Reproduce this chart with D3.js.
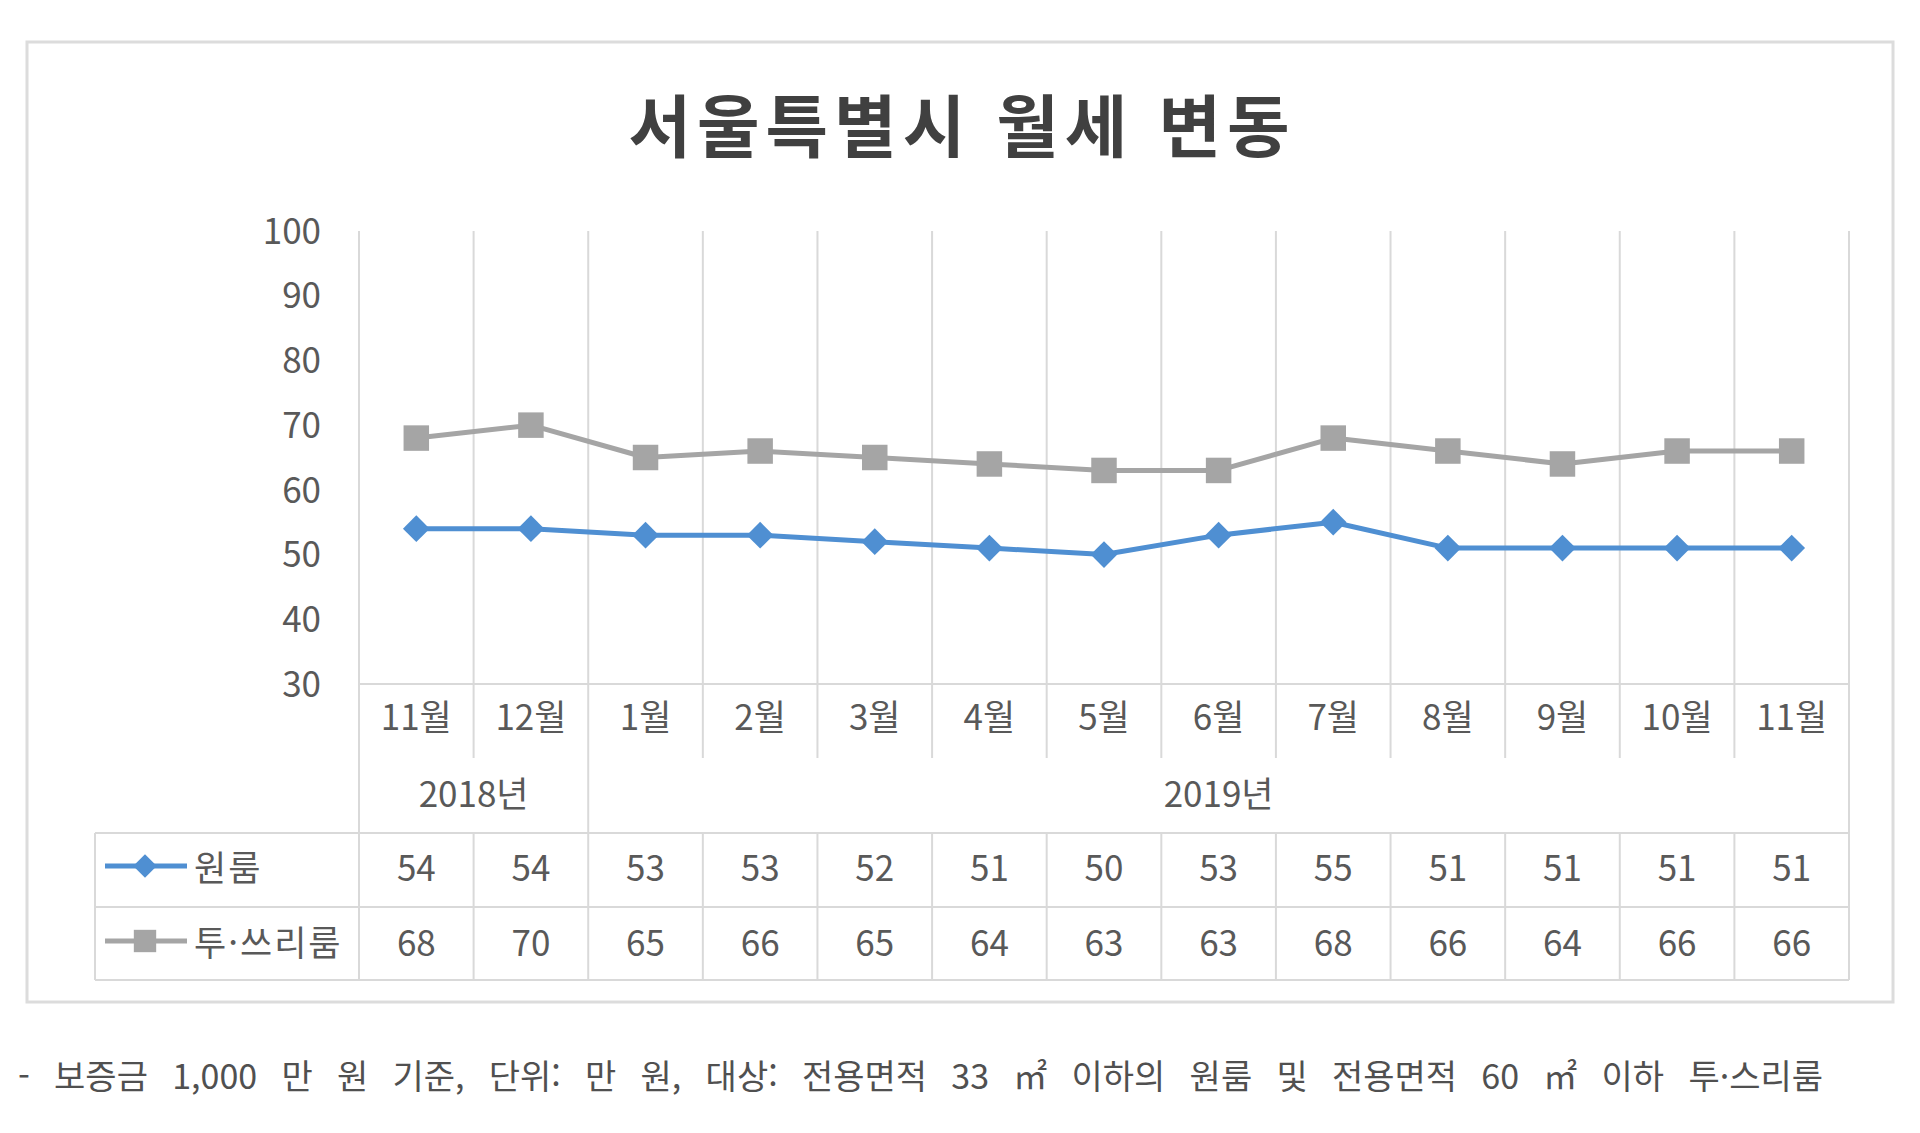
<!DOCTYPE html>
<html lang="ko">
<head>
<meta charset="utf-8">
<script src="https://cdnjs.cloudflare.com/ajax/libs/d3/7.8.5/d3.min.js"></script>
<style>
  body { margin: 0; background: #fff; }
  svg text { font-family: "Noto Sans CJK KR", "Noto Sans", sans-serif; fill: #595959; }
</style>
</head>
<body>
<script>
// values
const months = ["11월", "12월", "1월", "2월", "3월", "4월", "5월", "6월", "7월", "8월", "9월", "10월", "11월"];
const monthYears = ["2018년", "2018년", "2019년", "2019년", "2019년", "2019년", "2019년", "2019년", "2019년", "2019년", "2019년", "2019년", "2019년"];
const oneRoom = [54, 54, 53, 53, 52, 51, 50, 53, 55, 51, 51, 51, 51];
const twoThreeRoom = [68, 70, 65, 66, 65, 64, 63, 63, 68, 66, 64, 66, 66];
const seriesNames = ["원룸", "투·쓰리룸"];
const yTicks = [30, 40, 50, 60, 70, 80, 90, 100];

const chartTitle = "서울특별시 월세 변동";
const footnote = "- 보증금 1,000 만 원 기준, 단위: 만 원, 대상: 전용면적 33 ㎡ 이하의 원룸 및 전용면적 60 ㎡ 이하 투·스리룸";

const width = 1920;
const height = 1133;
const gridColor = "#d9d9d9";
const blue = "#4f8fd2";
const grey = "#a5a5a5";
const labelSize = "35px";

// layout (pixels)
const plot = { left: 359, right: 1849, top: 231, bottom: 684 };
const monthRowBottom = 758;
const tableTop = 833;
const rowBottoms = [907, 980];
const tableLeft = 95;

const svg = d3.select("body").append("svg")
  .attr("width", width)
  .attr("height", height);

const keys = months.map((m, i) => i);
const x = d3.scaleBand().domain(keys).range([plot.left, plot.right]).padding(0);
const y = d3.scaleLinear().domain([30, 100]).range([plot.bottom, plot.top]);
const boundaries = keys.map((k) => x(k)).concat([plot.right]);

const series = [
  { name: seriesNames[0], values: oneRoom, color: blue, marker: "diamond" },
  { name: seriesNames[1], values: twoThreeRoom, color: grey, marker: "square" },
];

function drawFrame() {
  svg.append("rect")
    .attr("x", 27).attr("y", 42)
    .attr("width", 1866).attr("height", 960)
    .attr("fill", "#fff")
    .attr("stroke", "#dcdcdc")
    .attr("stroke-width", 3);

  svg.append("text")
    .attr("x", 962)
    .attr("y", 152)
    .attr("text-anchor", "middle")
    .attr("font-size", "68px")
    .attr("font-weight", "bold")
    .attr("letter-spacing", "6px")
    .style("fill", "#404040")
    .text(chartTitle);
}

function drawGrid() {
  const g = svg.append("g").attr("stroke", gridColor).attr("stroke-width", 2);

  // category separators in the plot
  g.selectAll(".vgrid")
    .data(boundaries)
    .enter()
    .append("line")
    .attr("x1", (d) => d).attr("x2", (d) => d)
    .attr("y1", plot.top).attr("y2", plot.bottom);

  // x axis line
  g.append("line")
    .attr("x1", plot.left).attr("x2", plot.right)
    .attr("y1", plot.bottom).attr("y2", plot.bottom);

  // month row ticks, year boundaries run down into the table
  const yearEdges = new Set([plot.left, plot.right]);
  monthYears.forEach((yr, i) => {
    if (i > 0 && yr !== monthYears[i - 1]) yearEdges.add(x(i));
  });
  g.selectAll(".mtick")
    .data(boundaries)
    .enter()
    .append("line")
    .attr("x1", (d) => d).attr("x2", (d) => d)
    .attr("y1", plot.bottom)
    .attr("y2", (d) => (yearEdges.has(d) ? tableTop : monthRowBottom));

  // data table lines
  g.selectAll(".tcol")
    .data([tableLeft].concat(boundaries))
    .enter()
    .append("line")
    .attr("x1", (d) => d).attr("x2", (d) => d)
    .attr("y1", tableTop).attr("y2", rowBottoms[1]);
  g.selectAll(".trow")
    .data([tableTop].concat(rowBottoms))
    .enter()
    .append("line")
    .attr("x1", tableLeft).attr("x2", plot.right)
    .attr("y1", (d) => d).attr("y2", (d) => d);
}

function drawAxes() {
  const yAxis = d3.axisLeft(y).tickValues(yTicks).tickSize(0).tickPadding(0);
  const ga = svg.append("g")
    .attr("transform", `translate(${plot.left - 38},0)`)
    .call(yAxis);
  ga.select(".domain").remove();
  ga.selectAll("text")
    .attr("font-size", labelSize)
    .attr("dy", "0.35em")
    .style("font-family", null)
    .style("fill", "#595959");

  // month labels
  svg.append("g")
    .selectAll("text")
    .data(keys)
    .enter()
    .append("text")
    .attr("x", (d) => x(d) + x.bandwidth() / 2)
    .attr("y", 718)
    .attr("dy", "0.35em")
    .attr("text-anchor", "middle")
    .attr("font-size", labelSize)
    .text((d) => months[d]);

  // year labels centred on their months
  const groups = d3.groups(keys, (k) => monthYears[k]);
  svg.append("g")
    .selectAll("text")
    .data(groups)
    .enter()
    .append("text")
    .attr("x", (d) => (x(d[1][0]) + x(d[1][d[1].length - 1]) + x.bandwidth()) / 2)
    .attr("y", 795)
    .attr("dy", "0.35em")
    .attr("text-anchor", "middle")
    .attr("font-size", labelSize)
    .text((d) => d[0]);
}

function markerPath(type, size) {
  return type === "diamond"
    ? d3.symbol().type(d3.symbolSquare).size(size * 0.55)()
    : d3.symbol().type(d3.symbolSquare).size(size)();
}

function drawSeries() {
  const line = d3.line()
    .x((d, i) => x(i) + x.bandwidth() / 2)
    .y((d) => y(d));

  series.slice().reverse().forEach((s) => {
    const g = svg.append("g");
    g.append("path")
      .datum(s.values)
      .attr("fill", "none")
      .attr("stroke", s.color)
      .attr("stroke-width", 5)
      .attr("stroke-linejoin", "round")
      .attr("d", line);
    g.selectAll("path.mk")
      .data(s.values)
      .enter()
      .append("path")
      .attr("class", "mk")
      .attr("fill", s.color)
      .attr("d", markerPath(s.marker, 650))
      .attr("transform", (d, i) =>
        `translate(${x(i) + x.bandwidth() / 2},${y(d)})` + (s.marker === "diamond" ? " rotate(45)" : ""));
  });
}

function drawTable() {
  const rowCentres = [869, 944];
  series.forEach((s, r) => {
    const row = svg.append("g");
    // legend key
    row.append("line")
      .attr("x1", 105).attr("x2", 187)
      .attr("y1", rowCentres[r] - 3).attr("y2", rowCentres[r] - 3)
      .attr("stroke", s.color)
      .attr("stroke-width", 5);
    row.append("path")
      .attr("fill", s.color)
      .attr("d", markerPath(s.marker, 500))
      .attr("transform", `translate(145,${rowCentres[r] - 3})` + (s.marker === "diamond" ? " rotate(45)" : ""));
    row.append("text")
      .attr("x", 194)
      .attr("y", rowCentres[r])
      .attr("dy", "0.35em")
      .attr("font-size", labelSize)
      .attr("letter-spacing", "2px")
      .text(s.name);

    row.selectAll("text.val")
      .data(s.values)
      .enter()
      .append("text")
      .attr("class", "val")
      .attr("x", (d, i) => x(i) + x.bandwidth() / 2)
      .attr("y", rowCentres[r])
      .attr("dy", "0.35em")
      .attr("text-anchor", "middle")
      .attr("font-size", labelSize)
      .text((d) => d);
  });
}

function drawFootnote() {
  const note = svg.append("text")
    .attr("x", 18)
    .attr("y", 1077)
    .attr("dy", "0.35em")
    .attr("font-size", "34px")
    .style("fill", "#505050")
    .text(footnote);
  // spread the words a little so the line ends where the source one does
  const natural = note.node().getComputedTextLength();
  const gaps = footnote.split(" ").length - 1;
  note.attr("word-spacing", `${(1805 - natural) / gaps}px`);
}

drawFrame();
drawGrid();
drawAxes();
drawSeries();
drawTable();
drawFootnote();
</script>
</body>
</html>
